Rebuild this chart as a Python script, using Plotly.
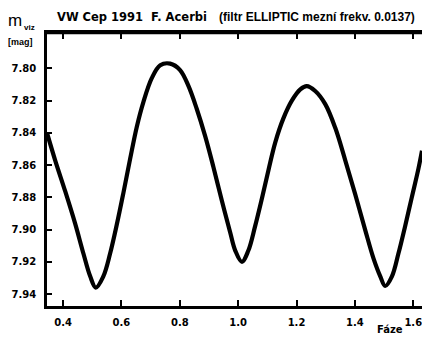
import plotly.graph_objects as go

# Light curve of VW Cep (phase vs. visual magnitude)
phase = [0.345, 0.373, 0.407, 0.441, 0.470, 0.493, 0.512, 0.538, 0.561, 0.584,
         0.607, 0.630, 0.653, 0.675, 0.704, 0.733, 0.767, 0.801, 0.830, 0.858,
         0.887, 0.915, 0.944, 0.973, 0.990, 1.013, 1.035, 1.058, 1.081, 1.104,
         1.127, 1.155, 1.184, 1.213, 1.235, 1.264, 1.298, 1.333, 1.367, 1.401,
         1.435, 1.464, 1.487, 1.504, 1.527, 1.549, 1.572, 1.595, 1.618, 1.630]
mag = [7.840, 7.857, 7.876, 7.896, 7.915, 7.929, 7.936, 7.929, 7.915, 7.897,
       7.877, 7.856, 7.836, 7.821, 7.806, 7.798, 7.797, 7.801, 7.811, 7.825,
       7.842, 7.861, 7.882, 7.902, 7.913, 7.920, 7.913, 7.898, 7.881, 7.863,
       7.846, 7.831, 7.820, 7.813, 7.811, 7.814, 7.822, 7.837, 7.857, 7.878,
       7.900, 7.918, 7.929, 7.935, 7.929, 7.915, 7.898, 7.880, 7.862, 7.851]

x_ticks = [0.4, 0.6, 0.8, 1.0, 1.2, 1.4, 1.6]
x_tick_labels = ["0.4", "0.6", "0.8", "1.0", "1.2", "1.4", "1.6"]
y_ticks = [7.80, 7.82, 7.84, 7.86, 7.88, 7.90, 7.92, 7.94]
y_tick_labels = ["7.80", "7.82", "7.84", "7.86", "7.88", "7.90", "7.92", "7.94"]

title_main = "VW Cep 1991\u00a0\u00a0F. Acerbi"
title_note = "(filtr ELLIPTIC mezní frekv. 0.0137)"
x_title = "Fáze"

W, H = 422, 338
ML, MR, MT, MB = 47, 0, 33, 32
PW, PH = W - ML - MR, H - MT - MB
X_RANGE = [0.345, 1.63]
Y_RANGE = [7.9474, 7.778]


def px_x(px):
    return (px - ML) / PW


def px_y(py):
    return (H - MB - py) / PH


tick_font = dict(family="DejaVu Sans", size=10, color="black", weight="bold")

fig = go.Figure()
fig.add_trace(go.Scatter(x=phase, y=mag, mode="lines",
                         line=dict(color="black", width=4.2, shape="spline", smoothing=1.0),
                         hoverinfo="skip", showlegend=False))

axis_common = dict(ticks="inside", tickwidth=2, tickcolor="black",
                   showgrid=False, zeroline=False,
                   showline=True, linecolor="black", linewidth=2.5)

fig.update_layout(
    width=W, height=H,
    margin=dict(l=ML, r=MR, t=MT, b=MB),
    paper_bgcolor="white", plot_bgcolor="white",
    xaxis=dict(range=X_RANGE, tickvals=x_ticks, ticktext=x_tick_labels, ticklen=6,
               mirror="ticks", tickfont=tick_font, ticklabelstandoff=5,
               ticklabeloverflow="allow", **axis_common),
    yaxis=dict(range=Y_RANGE, tickvals=y_ticks, ticktext=y_tick_labels, ticklen=5,
               mirror=False, tickfont=tick_font, ticklabelstandoff=6, **axis_common),
)

# top frame line of the plotting area
fig.add_shape(type="line", xref="paper", yref="paper", x0=0, x1=1, y0=1, y1=1,
              line=dict(color="black", width=2.5), layer="above")

annots = [
    dict(text=title_main, x=px_x(55), y=px_y(17), xanchor="left", yanchor="middle",
         font=dict(family="DejaVu Sans", size=11.5, color="black", weight="bold")),
    dict(text=title_note, x=px_x(217), y=px_y(17), xanchor="left", yanchor="middle",
         font=dict(family="Liberation Sans", size=12, color="black", weight="bold")),
    dict(text="m", x=px_x(6), y=px_y(21), xanchor="left", yanchor="middle",
         font=dict(family="Liberation Sans", size=17, color="black")),
    dict(text="viz", x=px_x(22), y=px_y(27), xanchor="left", yanchor="middle",
         font=dict(family="Liberation Sans", size=8, color="black", weight="bold")),
    dict(text="[mag]", x=px_x(6), y=px_y(42), xanchor="left", yanchor="middle",
         font=dict(family="Liberation Sans", size=9, color="black", weight="bold")),
    dict(text=x_title, x=px_x(375), y=px_y(329), xanchor="left", yanchor="middle",
         font=dict(family="DejaVu Sans", size=10, color="black", weight="bold")),
]
for a in annots:
    a.update(xref="paper", yref="paper", showarrow=False)
fig.update_layout(annotations=annots)

fig.write_html("out.html")
